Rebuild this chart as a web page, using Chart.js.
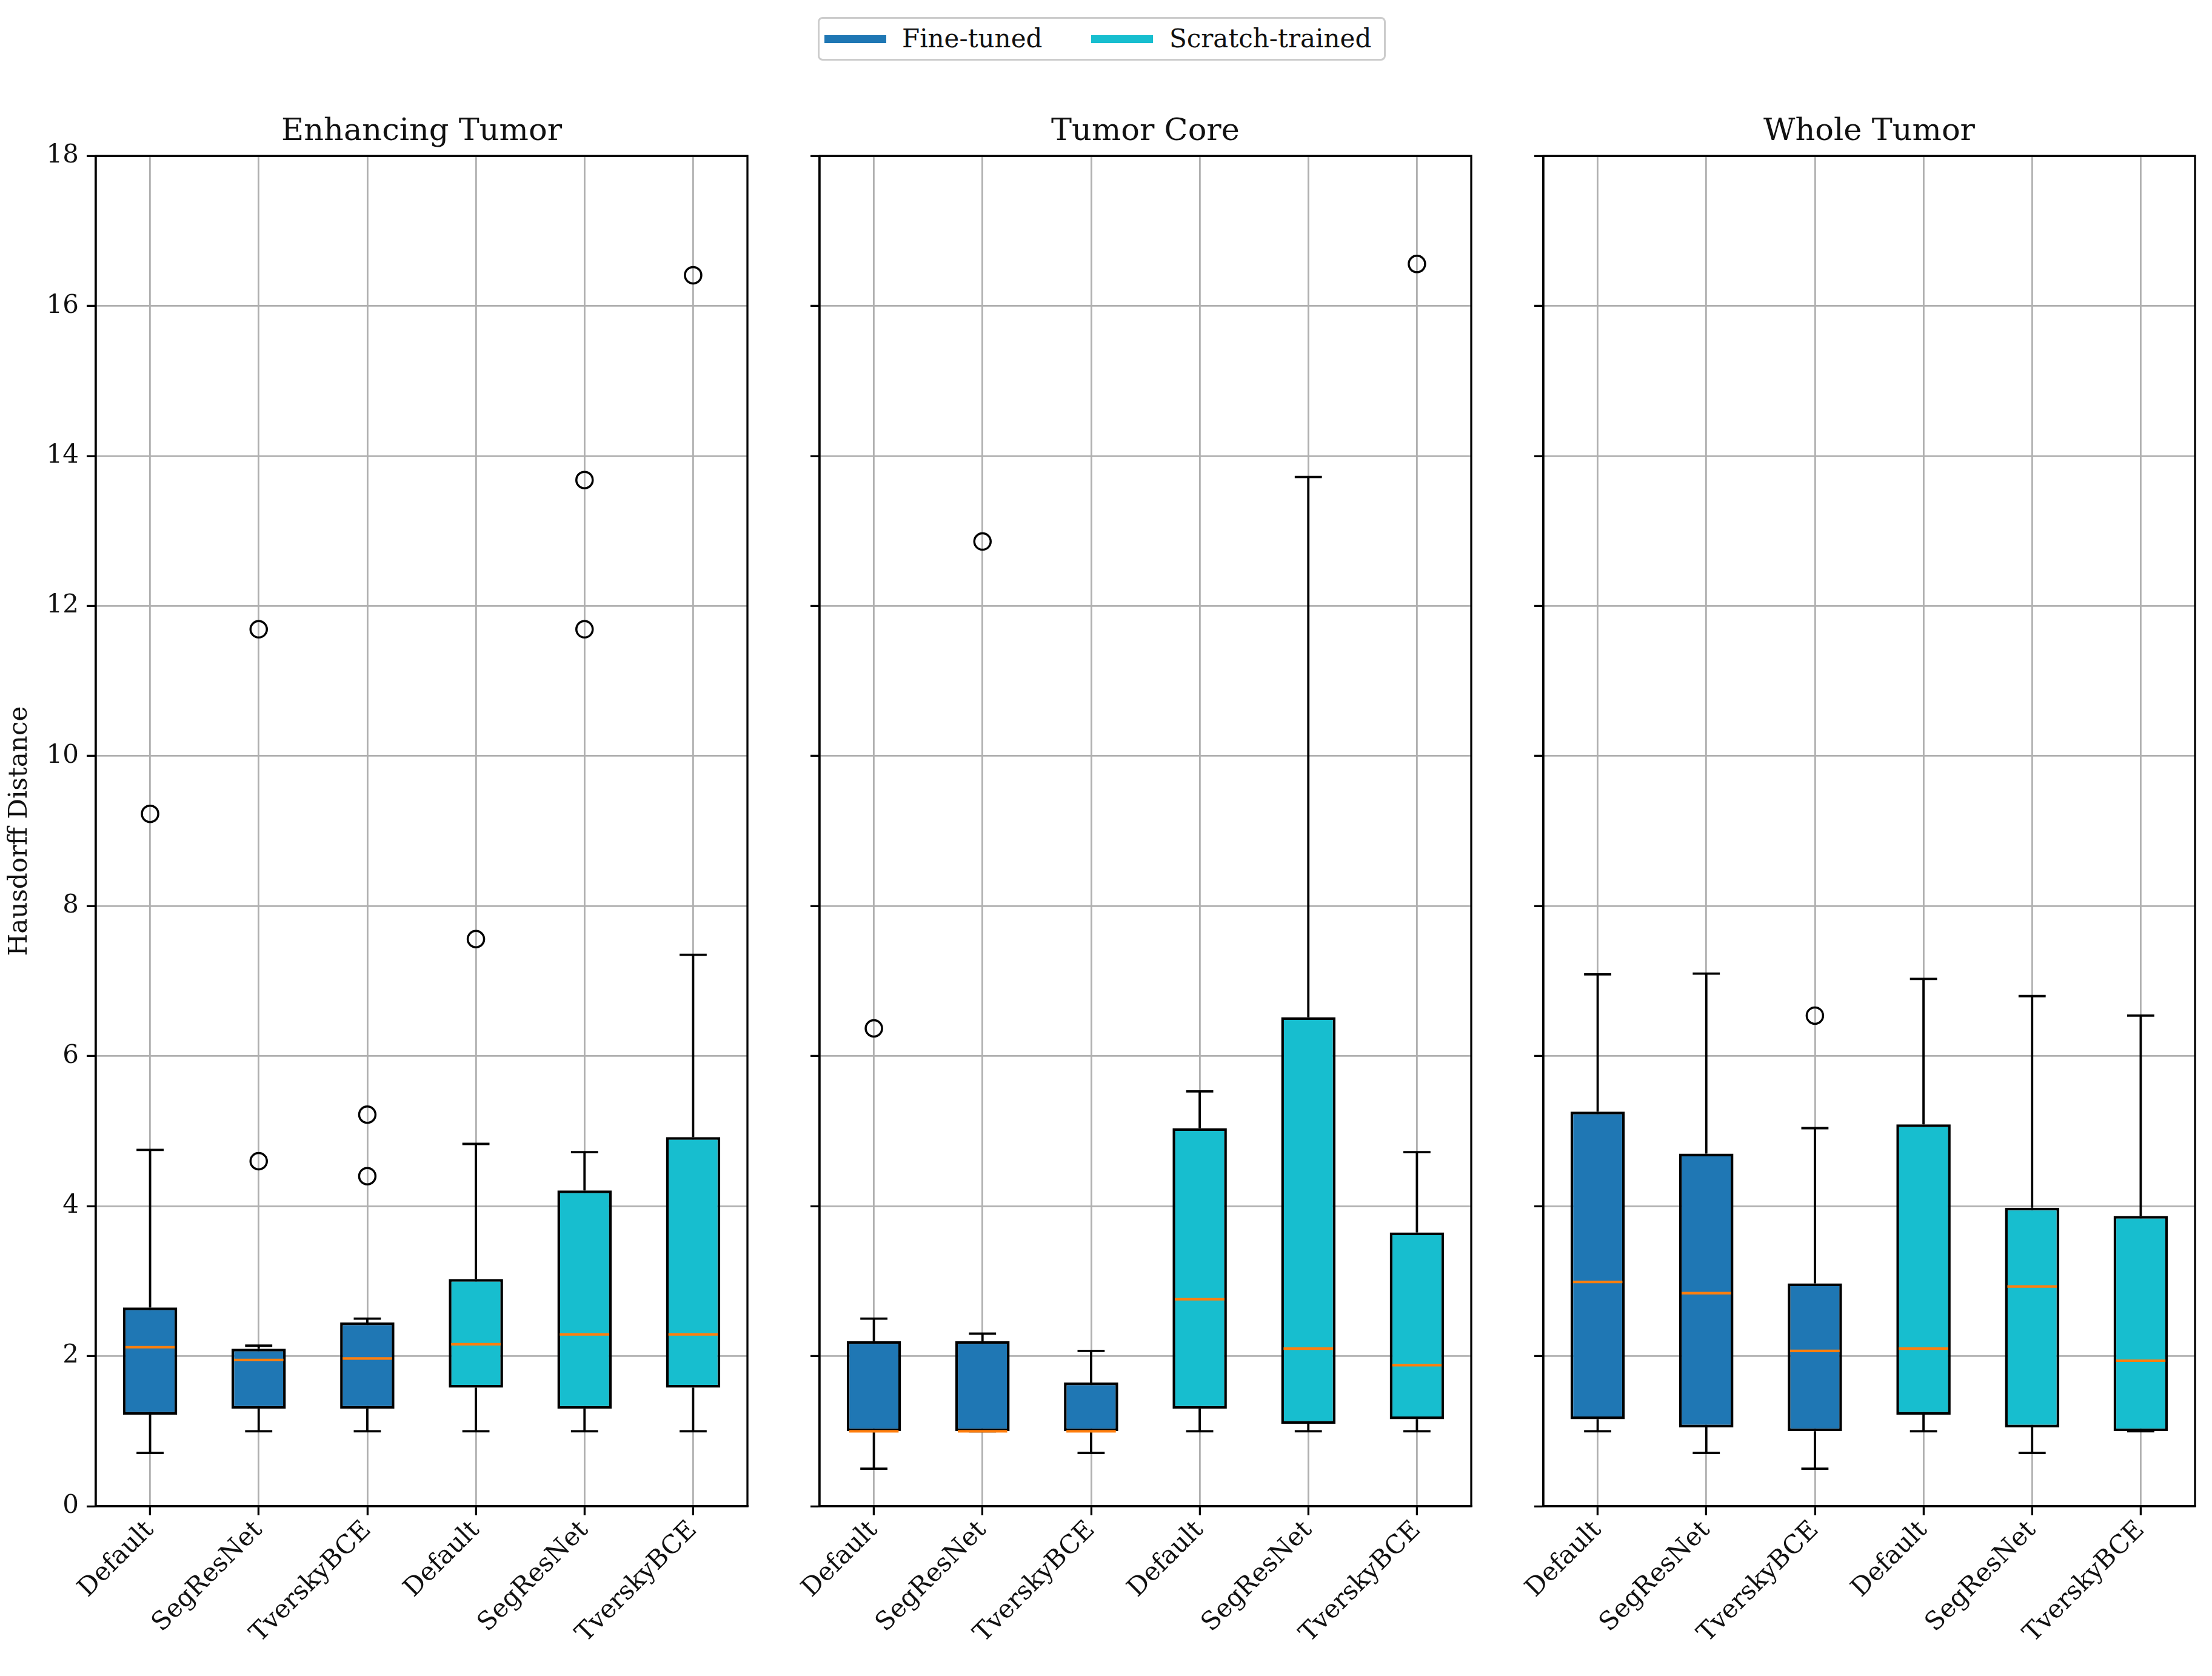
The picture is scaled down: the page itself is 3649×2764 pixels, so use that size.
<!DOCTYPE html>
<html>
<head>
<meta charset="utf-8">
<script src="https://cdn.jsdelivr.net/npm/chart.js@4.4.0/dist/chart.umd.min.js"></script>
<style>
html,body{margin:0;padding:0;background:#fff;}
#fig{position:relative;width:3649px;height:2764px;overflow:hidden;background:#fff;}
.panel{position:absolute;top:0;height:2764px;width:1250px;}
#legend{position:absolute;left:1349px;top:28px;width:931px;height:66px;border:3px solid #cccccc;border-radius:8px;background:#fff;font-family:'DejaVu Serif';font-size:42px;color:#111;z-index:2;}
.item{position:absolute;top:0;height:66px;line-height:66px;white-space:nowrap;}
.swatch{position:absolute;height:13px;top:27px;}
</style>
</head>
<body>
<div id="fig">
  <div id="legend">
    <span class="swatch" style="left:8px;width:102px;background:#1f77b4"></span>
    <span class="item" style="left:136px">Fine-tuned</span>
    <span class="swatch" style="left:448px;width:102px;background:#17becf"></span>
    <span class="item" style="left:577px">Scratch-trained</span>
  </div>
  <div class="panel" style="left:0px"><canvas id="c0"></canvas></div>
  <div class="panel" style="left:1194px"><canvas id="c1"></canvas></div>
  <div class="panel" style="left:2388px"><canvas id="c2"></canvas></div>
</div>
<script>
// ---------- data ----------
const categories = ['Default', 'SegResNet', 'TverskyBCE', 'Default', 'SegResNet', 'TverskyBCE'];
const seriesNames = ['Fine-tuned', 'Scratch-trained'];
const seriesOfCategory = [0, 0, 0, 1, 1, 1];
const panelTitles = ['Enhancing Tumor', 'Tumor Core', 'Whole Tumor'];
const yTicks = [0, 2, 4, 6, 8, 10, 12, 14, 16, 18];
const yAxisLabel = 'Hausdorff Distance';

// Enhancing Tumor
const etLow    = [0.71, 1.00, 1.00, 1.00, 1.00, 1.00];
const etQ1     = [1.22, 1.30, 1.30, 1.58, 1.30, 1.58];
const etMedian = [2.12, 1.95, 1.97, 2.16, 2.29, 2.29];
const etQ3     = [2.65, 2.10, 2.45, 3.03, 4.21, 4.92];
const etHigh   = [4.75, 2.14, 2.50, 4.83, 4.72, 7.35];
const etOutliers = [[9.23], [11.69, 4.60], [5.22, 4.40], [7.56], [13.68, 11.69], [16.41]];

// Tumor Core
const tcLow    = [0.50, 1.00, 0.71, 1.00, 1.00, 1.00];
const tcQ1     = [1.00, 1.00, 1.00, 1.30, 1.10, 1.16];
const tcMedian = [1.00, 1.00, 1.00, 2.76, 2.10, 1.88];
const tcQ3     = [2.20, 2.20, 1.65, 5.04, 6.52, 3.65];
const tcHigh   = [2.50, 2.30, 2.07, 5.53, 13.72, 4.72];
const tcOutliers = [[6.37], [12.86], [], [], [], [16.56]];

// Whole Tumor
const wtLow    = [1.00, 0.71, 0.50, 1.00, 0.71, 1.00];
const wtQ1     = [1.16, 1.05, 1.00, 1.22, 1.05, 1.00];
const wtMedian = [2.99, 2.84, 2.07, 2.10, 2.93, 1.94];
const wtQ3     = [5.26, 4.70, 2.97, 5.09, 3.98, 3.87];
const wtHigh   = [7.09, 7.10, 5.04, 7.03, 6.80, 6.54];
const wtOutliers = [[], [], [6.54], [], [], []];

// ---------- style ----------
const seriesColors = ['#1f77b4', '#17becf'];
const FONT = 'DejaVu Serif';
const TEXT = '#111111';
const GRID = '#b0b0b0';

Chart.defaults.font.family = FONT;
Chart.defaults.color = TEXT;

const panels = [
  {low: etLow, q1: etQ1, med: etMedian, q3: etQ3, high: etHigh, out: etOutliers},
  {low: tcLow, q1: tcQ1, med: tcMedian, q3: tcQ3, high: tcHigh, out: tcOutliers},
  {low: wtLow, q1: wtQ1, med: wtMedian, q3: wtQ3, high: wtHigh, out: wtOutliers}
];

function makePartsPlugin(p) {
  return {
    id: 'boxParts',
    afterDatasetsDraw(chart) {
      const ctx = chart.ctx;
      const xs = chart.scales.x, ys = chart.scales.y;
      const step = xs.getPixelForValue(1) - xs.getPixelForValue(0);
      const boxW = step * 0.5;
      const capW = boxW * 0.5;
      ctx.save();
      ctx.lineCap = 'butt';
      for (let i = 0; i < categories.length; i++) {
        const cx = xs.getPixelForValue(i);
        const yLow = ys.getPixelForValue(p.low[i]);
        const yQ1 = ys.getPixelForValue(p.q1[i]);
        const yQ3 = ys.getPixelForValue(p.q3[i]);
        const yHigh = ys.getPixelForValue(p.high[i]);
        const yMed = ys.getPixelForValue(p.med[i]);
        ctx.strokeStyle = '#000';
        ctx.lineWidth = 3.8;
        ctx.beginPath();
        ctx.moveTo(cx, yQ1); ctx.lineTo(cx, yLow);
        ctx.moveTo(cx, yQ3); ctx.lineTo(cx, yHigh);
        ctx.moveTo(cx - capW / 2, yLow); ctx.lineTo(cx + capW / 2, yLow);
        ctx.moveTo(cx - capW / 2, yHigh); ctx.lineTo(cx + capW / 2, yHigh);
        ctx.stroke();
        ctx.strokeStyle = '#ff7f0e';
        ctx.lineWidth = 4.2;
        ctx.beginPath();
        ctx.moveTo(cx - boxW / 2 + 4, yMed); ctx.lineTo(cx + boxW / 2 - 4, yMed);
        ctx.stroke();
      }
      ctx.restore();
    },
    afterDraw(chart) {
      const {ctx, chartArea} = chart;
      ctx.save();
      ctx.strokeStyle = '#000';
      ctx.lineWidth = 3.3;
      ctx.strokeRect(chartArea.left, chartArea.top, chartArea.right - chartArea.left, chartArea.bottom - chartArea.top);
      ctx.restore();
    }
  };
}

panels.forEach((p, k) => {
  const datasets = seriesNames.map((name, s) => ({
    type: 'bar',
    label: name,
    data: categories.map((c, i) => seriesOfCategory[i] === s ? [p.q1[i], p.q3[i]] : null),
    backgroundColor: seriesColors[s],
    borderColor: '#000',
    borderWidth: 4.5,
    borderSkipped: false,
    grouped: false,
    barPercentage: 0.5,
    categoryPercentage: 1.0,
    xAxisID: 'x',
    yAxisID: 'y'
  }));
  const outPts = [];
  p.out.forEach((vals, i) => vals.forEach(v => outPts.push({x: i, y: v})));
  datasets.push({
    type: 'scatter',
    label: 'outliers',
    data: outPts,
    parsing: false,
    normalized: true,
    xAxisID: 'x',
    yAxisID: 'y',
    pointRadius: 13.5,
    pointBorderWidth: 3.5,
    pointBackgroundColor: 'rgba(0,0,0,0)',
    pointBorderColor: '#000',
    showLine: false
  });

  new Chart(document.getElementById('c' + k), {
    type: 'bar',
    data: {labels: categories, datasets},
    options: {
      responsive: true,
      maintainAspectRatio: false,
      animation: false,
      events: [],
      layout: {padding: {left: 0, right: 10, top: 187, bottom: 0}},
      plugins: {
        legend: {display: false},
        tooltip: {enabled: false},
        title: {
          display: true,
          fullSize: false,
          text: panelTitles[k],
          color: TEXT,
          font: {family: FONT, size: 51, weight: 'normal'},
          padding: {top: 0, bottom: 9}
        }
      },
      scales: {
        x: {
          type: 'category',
          offset: true,
          grid: {offset: false, color: GRID, lineWidth: 2.8, drawTicks: true, tickLength: 15, tickColor: '#000', tickWidth: 3.3},
          border: {display: true, color: '#000', width: 3.3},
          ticks: {autoSkip: false, minRotation: 45, maxRotation: 45, padding: 0, color: TEXT, font: {family: FONT, size: 42}},
          afterFit(s) { s.height = 280; s.paddingLeft = 0; s.paddingRight = 0; }
        },
        y: {
          type: 'linear',
          min: 0,
          max: 18,
          afterBuildTicks(s) { s.ticks = yTicks.map(v => ({value: v})); },
          grid: {color: GRID, lineWidth: 2.8, drawTicks: true, tickLength: 15, tickColor: '#000', tickWidth: 3.3},
          border: {display: true, color: '#000', width: 3.3},
          ticks: {display: k === 0, padding: 13, color: TEXT, font: {family: FONT, size: 42}},
          title: {display: k === 0, text: yAxisLabel, color: TEXT, font: {family: FONT, size: 42}, padding: {top: 8, bottom: 0}},
          afterFit(s) { s.width = 158; }
        }
      }
    },
    plugins: [makePartsPlugin(p)]
  });
});
</script>
</body>
</html>
